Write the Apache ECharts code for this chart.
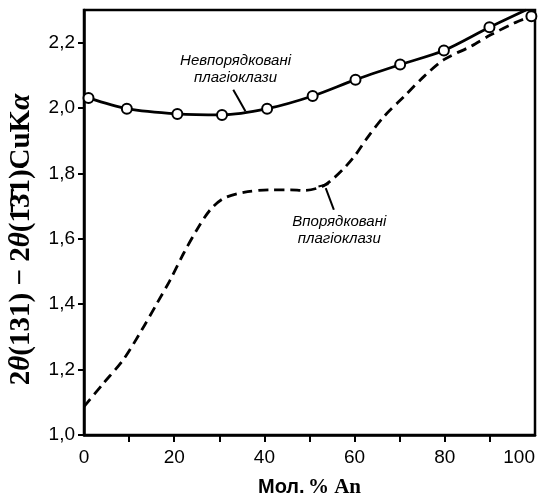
<!DOCTYPE html>
<html><head><meta charset="utf-8">
<script src="https://cdn.jsdelivr.net/npm/echarts@6/dist/echarts.min.js"></script>
<style>html,body{margin:0;padding:0;background:#fff}#c{width:547px;height:497px}</style>
</head><body><div id="c"></div>
<script>
// Disordered plagioclases (solid line with open circles)
const disorderedX = [1, 9.5, 20.7, 30.6, 40.6, 50.7, 60.2, 70.1, 79.8, 89.9];
const disorderedY = [2.031, 1.998, 1.982, 1.979, 1.998, 2.037, 2.087, 2.133, 2.176, 2.247];
const disorderedEndX = [98];
const disorderedEndY = [2.30];
// Ordered plagioclases (dashed line)
const orderedX = [0, 4.3, 8.7, 12.8, 16.2, 19.1, 22.1, 25.0, 28.0, 31.0, 35.4, 41.3, 45.8, 48.7, 52.8, 55.4, 58.0, 60.2, 62.6, 66.5, 71.0, 75.4, 79.8, 85.8, 90.2, 95.4, 99.2];
const orderedY = [1.087, 1.158, 1.230, 1.321, 1.403, 1.474, 1.556, 1.627, 1.689, 1.724, 1.742, 1.750, 1.750, 1.748, 1.760, 1.786, 1.821, 1.857, 1.905, 1.974, 2.036, 2.097, 2.148, 2.189, 2.224, 2.260, 2.281];
const yTicks = [1.0, 1.2, 1.4, 1.6, 1.8, 2.0, 2.2];
const xLabels = [0, 20, 40, 60, 80, 100];
const xTicks = [10, 20, 30, 40, 50, 60, 70, 80, 90];
const labelDisordered = ['Невпорядковані', 'плагіоклази'];
const labelOrdered = ['Впорядковані', 'плагіоклази'];

const solidData = disorderedX.map((x, i) => [x, disorderedY[i]]).concat(disorderedEndX.map((x, i) => [x, disorderedEndY[i]]));
const dashedData = orderedX.map((x, i) => [x, orderedY[i]]);
const circleData = disorderedX.map((x, i) => [x, disorderedY[i]]).concat([[orderedX[orderedX.length - 1], orderedY[orderedY.length - 1]]]);

const tickFont = "'Liberation Sans',Arial,sans-serif";
const annStyle = {fontFamily: "'Liberation Sans',Arial,sans-serif", fontStyle: 'italic', fontSize: 15, color: '#000', lineHeight: 17, opacity: 1};

const chart = echarts.init(document.getElementById('c'), null, {renderer: 'canvas'});
chart.setOption({
  backgroundColor: '#fff',
  animation: false,
  grid: {left: 84, right: 12, top: 10, bottom: 62, outerBoundsMode: 'none', containLabel: false,
    show: true, borderColor: '#000', borderWidth: 2.5, backgroundColor: 'transparent'},
  xAxis: {
    type: 'value', min: 0, max: 100, interval: 10,
    name: '{a|Мол.} {b|% An}', nameLocation: 'middle', nameGap: 42,
    nameTextStyle: {rich: {
      a: {fontFamily: tickFont, fontWeight: 'bold', fontSize: 20, color: '#000'},
      b: {fontFamily: "'Liberation Serif',serif", fontWeight: 'bold', fontSize: 21, color: '#000'}
    }},
    axisLine: {show: true, lineStyle: {color: '#000', width: 2.5}},
    axisTick: {show: true, inside: false, length: 7, lineStyle: {color: '#000', width: 2}, customValues: xTicks},
    axisLabel: {color: '#000', fontFamily: tickFont, fontSize: 19, margin: 13, customValues: xLabels, alignMaxLabel: 'right'},
    splitLine: {show: false}
  },
  yAxis: {
    type: 'value', min: 1.0, max: 2.3, interval: 0.2,
    name: '{n|2}{i|θ}{n|(131) − 2}{i|θ}{n|(1̄3̄1)CuK}{i|α}', nameLocation: 'middle', nameGap: 48, nameRotate: 90,
    nameTextStyle: {padding: [0, 34, 0, 0], rich: {
      n: {fontFamily: "'Liberation Serif',serif", fontWeight: 'bold', fontSize: 29, color: '#000'},
      i: {fontFamily: "'Liberation Serif',serif", fontWeight: 'bold', fontStyle: 'italic', fontSize: 29, color: '#000'}
    }},
    axisLine: {show: true, lineStyle: {color: '#000', width: 2.5}},
    axisTick: {show: true, inside: false, length: 6, lineStyle: {color: '#000', width: 2}, customValues: yTicks},
    axisLabel: {color: '#000', fontFamily: tickFont, fontSize: 19, margin: 9, customValues: yTicks,
      formatter: v => v.toFixed(1).replace('.', ',')},
    splitLine: {show: false}
  },
  series: [
    {type: 'line', data: dashedData, smooth: 0.3, showSymbol: false, symbol: 'none',
      lineStyle: {color: '#000', width: 2.8, type: [10, 6]}, z: 2},
    {type: 'line', data: solidData, smooth: 0.3, showSymbol: false, symbol: 'none',
      lineStyle: {color: '#000', width: 2.8}, z: 3,
      markLine: {symbol: 'none', silent: true, label: {show: false}, lineStyle: {color: '#000', width: 2, type: 'solid', opacity: 1},
        data: [
          [{coord: [33.1, 2.056]}, {coord: [35.8, 1.99]}],
          [{coord: [53.6, 1.755]}, {coord: [55.4, 1.689]}],
          [{coord: [52.0, 1.760]}, {coord: [54.2, 1.768]}]
        ]}
    },
    {type: 'scatter', data: circleData, symbol: 'circle', symbolSize: 10,
      itemStyle: {color: '#fff', borderColor: '#000', borderWidth: 2, opacity: 1}, z: 5},
    {type: 'scatter', symbolSize: 0, z: 6, silent: true, itemStyle: {opacity: 1},
      data: [
        {value: [33.6, 2.118], label: {show: true, formatter: labelDisordered.join('\n'), position: 'inside', ...annStyle}},
        {value: [56.6, 1.625], label: {show: true, formatter: labelOrdered.join('\n'), position: 'inside', ...annStyle}}
      ]}
  ]
});
</script></body></html>
